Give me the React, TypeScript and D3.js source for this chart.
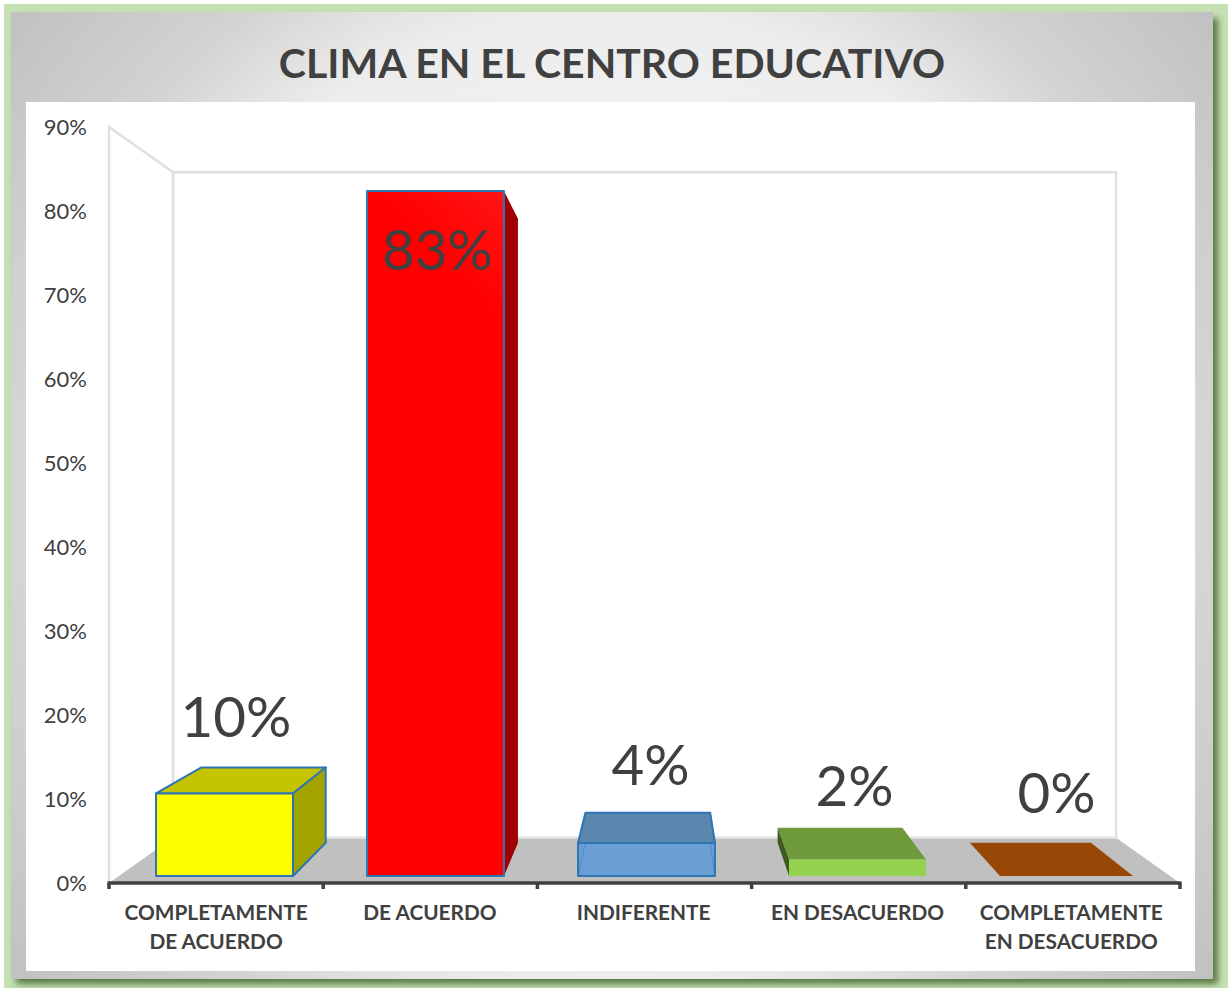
import React from "react";
import * as d3 from "d3";

const title = "CLIMA EN EL CENTRO EDUCATIVO";
const categories = [
  ["COMPLETAMENTE", "DE ACUERDO"],
  ["DE ACUERDO"],
  ["INDIFERENTE"],
  ["EN DESACUERDO"],
  ["COMPLETAMENTE", "EN DESACUERDO"],
];
const values = [10, 83, 4, 2, 0];
const valueLabels = ["10%", "83%", "4%", "2%", "0%"];
const axisTicks = [0, 10, 20, 30, 40, 50, 60, 70, 80, 90];

const frontColors = ["#ffff00", "url(#redFace)", "#6a9fd5", "#92d24f", "#974706"];
const topColors = ["#c4c400", "#c00000", "#5b86ae", "#6f9a3c", "#974706"];
const sideColors = ["#a3a300", "#a00000", "#5f93c8", "#3e5a20", "#974706"];
const strokeColors = ["#2e75b6", "#2e75b6", "#2e75b6", "none", "none"];
const labelDx = [11.5, 2, 4, -3, -12];
const labelDy = [-56, 79, -58, -53, -63];

const FONT = "Lato, Carlito, sans-serif";
const TEXT = "#404040";

const W = 1228;
const H = 988;

// axis (front) plane
const yAxis = d3.scaleLinear().domain([0, 90]).range([883, 127]);
const xAxis = d3.scaleBand<number>().domain(d3.range(categories.length)).range([109, 1180]);
// bar plane
const yBar = d3.scaleLinear().domain([0, 83]).range([876, 191]);
const xBar = d3.scaleBand<number>().domain(d3.range(categories.length)).range([119, 1174]).paddingInner(0.351).paddingOuter(0.1755);

type P = [number, number];
const depth = (k: number, vx: number, vy: number) => ([x, y]: P): P => [vx + k * (x - vx), vy + k * (y - vy)];
const wallBack = depth(0.8805, 645, 505);
const barBack = depth(0.911, 661, 502);
const poly = d3.line<P>().x((d) => d[0]).y((d) => d[1]);
const closed = (pts: P[]) => poly(pts) + "Z";

function Bar({ i }: { i: number }) {
  const x0 = xBar(i) as number;
  const x1 = x0 + xBar.bandwidth() - (values[i] === 0 ? 4 : 0);
  const yT = yBar(values[i]);
  const yB = yBar(0);
  const fl: P = [x0, yT], fr: P = [x1, yT], bl: P = [x0, yB], br: P = [x1, yB];
  const sw = strokeColors[i] === "none" ? 0 : 2;
  const common = { stroke: strokeColors[i], strokeWidth: sw, strokeLinejoin: "round" as const };
  const showTop = barBack(fl)[1] < yT;
  const showRight = barBack(fr)[0] > x1;
  const showLeft = barBack(fl)[0] < x0;
  const sideStroke = values[i] > 50 ? { stroke: "none" } : common;
  return (
    <g>
      {showTop && <path d={closed([fl, fr, barBack(fr), barBack(fl)])} fill={topColors[i]} {...common} />}
      {showRight && <path d={closed([fr, br, barBack(br), barBack(fr)])} fill={sideColors[i]} {...sideStroke} />}
      {showLeft && <path d={closed([fl, bl, barBack(bl), barBack(fl)])} fill={sideColors[i]} {...common} />}
      <path d={closed([fl, fr, br, bl])} fill={frontColors[i]} {...common} />
      {i === 2 && (
        <g stroke={strokeColors[i]} strokeWidth={1} opacity={0.5} fill="none">
          <path d={poly([bl, [barBack(bl)[0], yT]])!} />
          <path d={poly([br, [barBack(br)[0], yT]])!} />
        </g>
      )}
    </g>
  );
}

export default function App() {
  const fl: P = [yAxisLeft(), yAxis(0)];
  const fr: P = [yAxisRight(), yAxis(0)];
  const tl: P = [yAxisLeft(), yAxis(90)];
  const tr: P = [yAxisRight(), yAxis(90)];
  const bfl = wallBack(fl), bfr = wallBack(fr), btl = wallBack(tl), btr = wallBack(tr);
  const tickXs = [...xAxis.domain().map((d) => xAxis(d) as number), yAxisRight()];

  return (
    <svg width={W} height={H} viewBox={`0 0 ${W} ${H}`} style={{ position: "absolute", left: 0, top: 0, display: "block" }}>
      <defs>
        <radialGradient id="panel" gradientUnits="userSpaceOnUse" cx={612} cy={495} r={775}>
          <stop offset="0" stopColor="#ffffff" />
          <stop offset="0.63" stopColor="#ececec" />
          <stop offset="0.78" stopColor="#d3d3d3" />
          <stop offset="1" stopColor="#c0c0c0" />
        </radialGradient>
        <linearGradient id="redFace" gradientUnits="userSpaceOnUse" x1="367" y1="320" x2="503" y2="191">
          <stop offset="0.5" stopColor="#ff0000" />
          <stop offset="1" stopColor="#ff1414" />
        </linearGradient>
        <filter id="soft" x="-5%" y="-5%" width="110%" height="110%">
          <feGaussianBlur stdDeviation="3" />
        </filter>
      </defs>

      <rect x={0} y={0} width={W} height={H} fill="#ffffff" />
      <rect x={4} y={4} width={W - 4} height={H - 4} fill="#c5e0b3" />
      <rect x={16} y={18} width={1202} height={966} fill="#385723" opacity={0.75} filter="url(#soft)" />
      <rect x={11} y={12} width={1202} height={967} fill="url(#panel)" />
      <rect x={26} y={102} width={1169} height={869} fill="#ffffff" />

      <text x={612} y={78} textAnchor="middle" fontFamily={FONT} fontWeight={700} fontSize={41} fill={TEXT}>{title}</text>

      {/* walls */}
      <path d={closed([fl, fr, bfr, bfl])} fill="#c0c0c0" />
      <g fill="none" stroke="#e0e0e0" strokeWidth={2.5}>
        <path d={poly([fl, tl, btl, bfl])!} />
        <path d={closed([bfl, btl, btr, bfr])} />
      </g>

      {values.map((_, i) => <Bar key={i} i={i} />)}

      {/* axis */}
      <g stroke="#404040" strokeWidth={3.5}>
        <line x1={yAxisLeft() - 1.5} x2={yAxisRight() + 1.5} y1={yAxis(0)} y2={yAxis(0)} />
        {tickXs.map((x, i) => <line key={i} x1={x} x2={x} y1={yAxis(0)} y2={yAxis(0) + 6} />)}
      </g>

      {axisTicks.map((t) => (
        <text key={t} x={87} y={yAxis(t) - 0.5} dominantBaseline="central" textAnchor="end" fontFamily={FONT} fontSize={22} fill={TEXT}>{t}%</text>
      ))}

      {categories.map((lines, i) => {
        const cx = (xAxis(i) as number) + xAxis.bandwidth() / 2 - i * 0.4;
        return lines.map((l, j) => (
          <text key={j} x={cx} y={920 + j * 28.5} textAnchor="middle" fontFamily={FONT} fontWeight={700} fontSize={20.8} fill={TEXT}>{l}</text>
        ));
      })}

      {values.map((v, i) => (
        <text key={i} x={(xBar(i) as number) + xBar.bandwidth() / 2 + labelDx[i]} y={yBar(v) + labelDy[i]} textAnchor="middle" fontFamily={FONT} fontSize={56.5} fill={TEXT}>{valueLabels[i]}</text>
      ))}
    </svg>
  );
}

function yAxisLeft() { return xAxis.range()[0]; }
function yAxisRight() { return xAxis.range()[1]; }
